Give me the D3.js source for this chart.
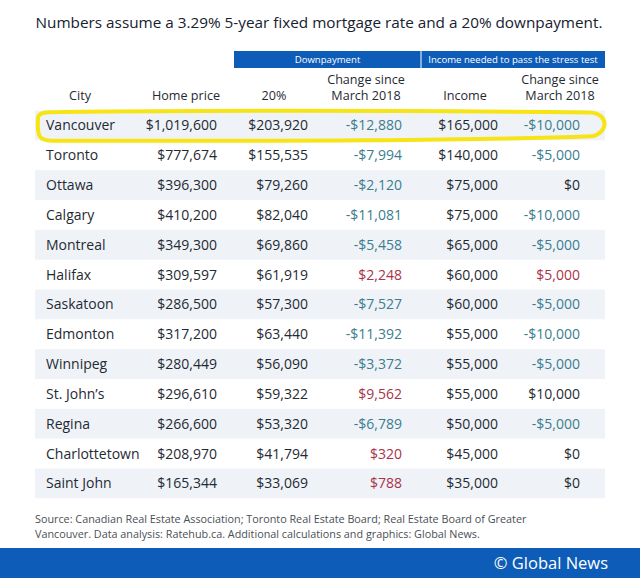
<!DOCTYPE html>
<html>
<head>
<meta charset="utf-8">
<script src="https://cdn.jsdelivr.net/npm/d3@7"></script>
<style>
  html, body { margin: 0; padding: 0; background: #fff; }
  svg { display: block; font-family: "Open Sans", "DejaVu Sans", sans-serif; }
</style>
</head>
<body>
<svg id="chart" width="640" height="578"></svg>
<script>
// ---------- data ----------
const titleText = "Numbers assume a 3.29% 5-year fixed mortgage rate and a 20% downpayment.";
const groupHeaders = ["Downpayment", "Income needed to pass the stress test"];
const columnHeaders = [["City"], ["Home price"], ["20%"], ["Change since", "March 2018"], ["Income"], ["Change since", "March 2018"]];
const cities = ["Vancouver", "Toronto", "Ottawa", "Calgary", "Montreal", "Halifax", "Saskatoon", "Edmonton", "Winnipeg", "St. John\u2019s", "Regina", "Charlottetown", "Saint John"];
const homePrice = [1019600, 777674, 396300, 410200, 349300, 309597, 286500, 317200, 280449, 296610, 266600, 208970, 165344];
const downpayment20 = [203920, 155535, 79260, 82040, 69860, 61919, 57300, 63440, 56090, 59322, 53320, 41794, 33069];
const downpaymentChange = [-12880, -7994, -2120, -11081, -5458, 2248, -7527, -11392, -3372, 9562, -6789, 320, 788];
const incomeNeeded = [165000, 140000, 75000, 75000, 65000, 60000, 60000, 55000, 55000, 55000, 50000, 45000, 35000];
const incomeChange = [-10000, -5000, 0, -10000, -5000, 5000, -5000, -10000, -5000, 10000, -5000, 0, 0];
const highlightedCity = "Vancouver";
const sourceLines = [
  "Source: Canadian Real Estate Association; Toronto Real Estate Board; Real Estate Board of Greater",
  "Vancouver. Data analysis: Ratehub.ca. Additional calculations and graphics: Global News."
];
const creditText = "\u00A9 Global News";

// ---------- styles ----------
const C = {
  title: "#15212e",
  text: "#1f2a33",
  neg: "#3b7d8e",
  pos: "#a8334a",
  band: "#eff3f8",
  blue: "#0d5cb8",
  footer: "#4a4f55",
  yellow: "#f6e416"
};

const svg = d3.select("#chart");

// column layout (right-aligned anchors for numeric columns)
const colKeys = ["city", "home", "dp", "dpChg", "inc", "incChg"];
const colAnchor = d3.scaleOrdinal().domain(colKeys).range([46, 217, 308, 402, 498, 580]);
const headerCenter = d3.scaleOrdinal().domain(colKeys).range([80, 186, 274, 366, 465, 560]);

const rowScale = d3.scaleBand().domain(cities).range([110.5, 110.5 + 29.83 * cities.length]).padding(0);

const fmt = d3.format(",");
const money = v => (v < 0 ? "-" : "") + "$" + fmt(Math.abs(v));

// title
svg.append("text")
  .attr("x", 319).attr("y", 28)
  .attr("text-anchor", "middle")
  .attr("font-size", 15.3)
  .attr("font-weight", 500)
  .attr("fill", C.title)
  .text(titleText);

// group header bar
const groupX = d3.scaleOrdinal().domain(groupHeaders).range([[234, 421], [421, 605]]);
groupHeaders.forEach(g => {
  const [x0, x1] = groupX(g);
  svg.append("rect").attr("x", x0).attr("y", 51).attr("width", x1 - x0).attr("height", 17).attr("fill", C.blue);
  svg.append("text").attr("x", (x0 + x1) / 2).attr("y", 63)
    .attr("text-anchor", "middle").attr("font-size", 9.6).attr("fill", "#fff").text(g);
});
svg.append("line").attr("x1", 421).attr("x2", 421).attr("y1", 51).attr("y2", 68).attr("stroke", "#fff").attr("stroke-width", 1);

// column headers
columnHeaders.forEach((lines, i) => {
  const k = colKeys[i];
  const t = svg.append("text")
    .attr("text-anchor", "middle")
    .attr("font-size", 12.6)
    .attr("fill", C.text);
  lines.forEach((ln, j) => {
    t.append("tspan")
      .attr("x", headerCenter(k))
      .attr("y", 100 - (lines.length - 1 - j) * 16)
      .text(ln);
  });
});

// row bands
svg.append("g").selectAll("rect")
  .data(cities.filter((d, i) => i % 2 === 0))
  .join("rect")
  .attr("x", 35).attr("width", 570)
  .attr("y", d => rowScale(d)).attr("height", rowScale.bandwidth())
  .attr("fill", C.band);

// cells
const rows = cities.map((c, i) => ({
  city: c,
  home: homePrice[i],
  dp: downpayment20[i],
  dpChg: downpaymentChange[i],
  inc: incomeNeeded[i],
  incChg: incomeChange[i]
}));

const changeColor = (v, row, key) => {
  if (v < 0) return C.neg;
  if (v > 0 && !(key === "incChg" && row.city === "St. John\u2019s")) return C.pos;
  return C.text;
};

const rowG = svg.append("g").selectAll("g").data(rows).join("g")
  .attr("transform", d => `translate(0,${rowScale(d.city) + rowScale.bandwidth() / 2 + 5})`);

colKeys.forEach(k => {
  rowG.append("text")
    .attr("x", colAnchor(k))
    .attr("text-anchor", k === "city" ? "start" : "end")
    .attr("font-size", 14)
    .attr("fill", d => (k === "dpChg" || k === "incChg") ? changeColor(d[k], d, k) : C.text)
    .text(d => k === "city" ? d.city : money(d[k]));
});

// hand-drawn yellow highlight around the highlighted row
const hy = rowScale(highlightedCity);
const hb = rowScale.bandwidth();
const hl = d3.path();
hl.moveTo(60, hy + 1.5);
hl.bezierCurveTo(250, hy - 0.5, 450, hy + 0.5, 590, hy + 2);
hl.bezierCurveTo(609, hy + 3, 609, hy + hb - 8, 592, hy + hb - 4);
hl.bezierCurveTo(450, hy + hb + 1, 250, hy + hb + 0.5, 52, hy + hb + 0.5);
hl.bezierCurveTo(39, hy + hb, 37, hy + hb - 4, 38, hy + 8);
hl.bezierCurveTo(38, hy + 2, 44, hy + 1.5, 60, hy + 1.5);
svg.append("path").attr("d", hl.toString())
  .attr("fill", "none").attr("stroke", C.yellow).attr("stroke-width", 4)
  .attr("stroke-linejoin", "round");

// source
svg.append("g").selectAll("text").data(sourceLines).join("text")
  .attr("x", 35).attr("y", (d, i) => 523 + i * 15)
  .attr("font-size", 10.8).attr("fill", C.footer)
  .text(d => d);

// bottom bar
svg.append("rect").attr("x", 0).attr("y", 548).attr("width", 640).attr("height", 30).attr("fill", C.blue);
svg.append("text").attr("x", 608).attr("y", 569)
  .attr("text-anchor", "end").attr("font-size", 16.5).attr("fill", "#fff")
  .text(creditText);
</script>
</body>
</html>
